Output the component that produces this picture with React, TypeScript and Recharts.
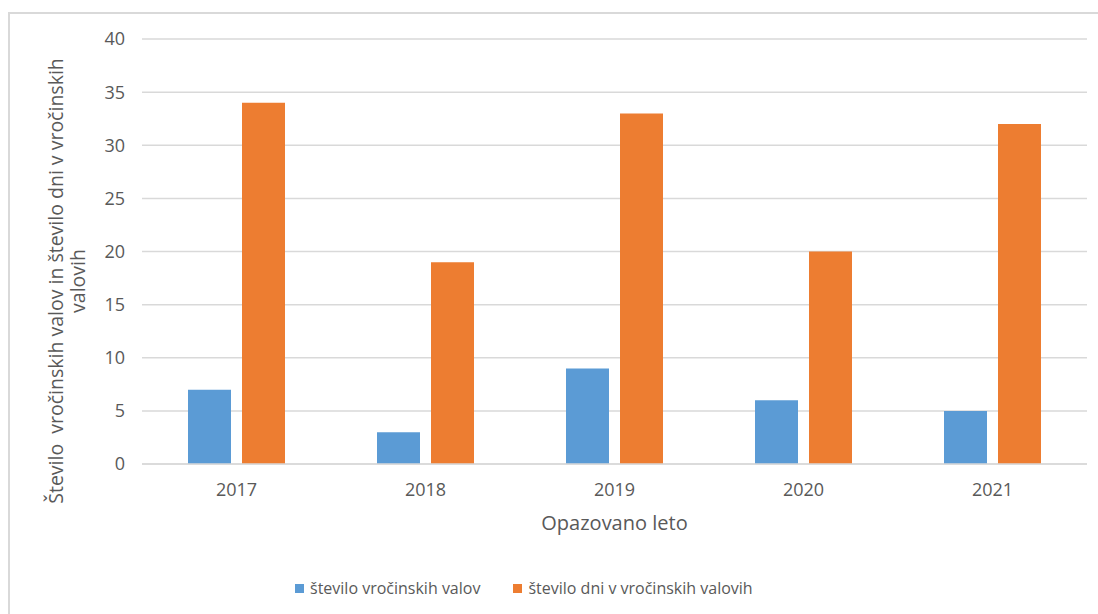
import { BarChart, Bar, XAxis, YAxis, CartesianGrid, Legend, Label } from "recharts";

const years = ["2017", "2018", "2019", "2020", "2021"];
const steviloValov = [7, 3, 9, 6, 5];
const steviloDni = [34, 19, 33, 20, 32];
const yTicks = [0, 5, 10, 15, 20, 25, 30, 35, 40];

const seriesNames = ["število vročinskih valov", "število dni v vročinskih valovih"];
const colors = ["#5B9BD5", "#ED7D31"];

const data = years.map((y, i) => ({
    year: y,
    valovi: steviloValov[i],
    dni: steviloDni[i],
}));

const FONT = "'Open Sans', sans-serif";
const TEXT = "#595959";

// two-line rotated title, like the Excel one
const YTitle = () => {
    const x = 63;
    const y = 281;
    return (
        <text
            transform={`translate(${x}, ${y}) rotate(-90)`}
            textAnchor="middle"
            fill={TEXT}
            fontFamily={FONT}
            fontSize={19.5}
            style={{ whiteSpace: "pre" }}
        >
            <tspan x={0} dy={0}>Število  vročinskih valov in število dni v vročinskih</tspan>
            <tspan x={0} dy={22}>valovih</tspan>
        </text>
    );
};

const LegendContent = () => (
    <div style={{ display: "flex", alignItems: "center", fontFamily: FONT, fontSize: 16, color: TEXT }}>
        {seriesNames.map((name, i) => (
            <div key={name} style={{ display: "flex", alignItems: "center", marginRight: i === 0 ? 33 : 0 }}>
                <span style={{ width: 9, height: 9, background: colors[i], display: "inline-block", marginRight: 6 }} />
                <span>{name}</span>
            </div>
        ))}
    </div>
);

export default function App() {
    return (
        <div style={{ position: "fixed", left: 0, top: 0, width: 1098, height: 614, overflow: "hidden", background: "#fff" }}>
            <div
                style={{
                    position: "absolute",
                    left: 8,
                    top: 12,
                    width: 1110,
                    height: 620,
                    border: "2px solid #D9D9D9",
                    boxSizing: "border-box",
                }}
            />
            <div style={{ position: "absolute", left: 0, top: 0 }}>
                <BarChart
                    width={1098}
                    height={614}
                    data={data}
                    margin={{ top: 39, right: 11, left: 0, bottom: 90 }}
                    barSize={43}
                    barGap={11}
                >
                    <CartesianGrid vertical={false} stroke="#D9D9D9" strokeWidth={1.5} />
                    <XAxis
                        dataKey="year"
                        height={60}
                        tickSize={0}
                        tickMargin={19}
                        axisLine={{ stroke: "#D9D9D9", strokeWidth: 1.5 }}
                        tick={{ fill: TEXT, fontFamily: FONT, fontSize: 18 }}
                    >
                        <Label
                            value="Opazovano leto"
                            position="insideBottom"
                            offset={-6}
                            fill={TEXT}
                            fontFamily={FONT}
                            fontSize={20}
                        />
                    </XAxis>
                    <YAxis
                        width={142}
                        domain={[0, 40]}
                        ticks={yTicks}
                        interval={0}
                        tickSize={0}
                        tickMargin={17}
                        axisLine={false}
                        tick={{ fill: TEXT, fontFamily: FONT, fontSize: 18 }}
                    >
                        <Label content={<YTitle />} />
                    </YAxis>
                    <Legend
                        verticalAlign="middle"
                        align="center"
                        content={<LegendContent />}
                        wrapperStyle={{ position: "absolute", left: 295, top: 577, width: "auto" }}
                    />
                    <Bar dataKey="valovi" name={seriesNames[0]} fill={colors[0]} isAnimationActive={false} />
                    <Bar dataKey="dni" name={seriesNames[1]} fill={colors[1]} isAnimationActive={false} />
                </BarChart>
            </div>
        </div>
    );
}
